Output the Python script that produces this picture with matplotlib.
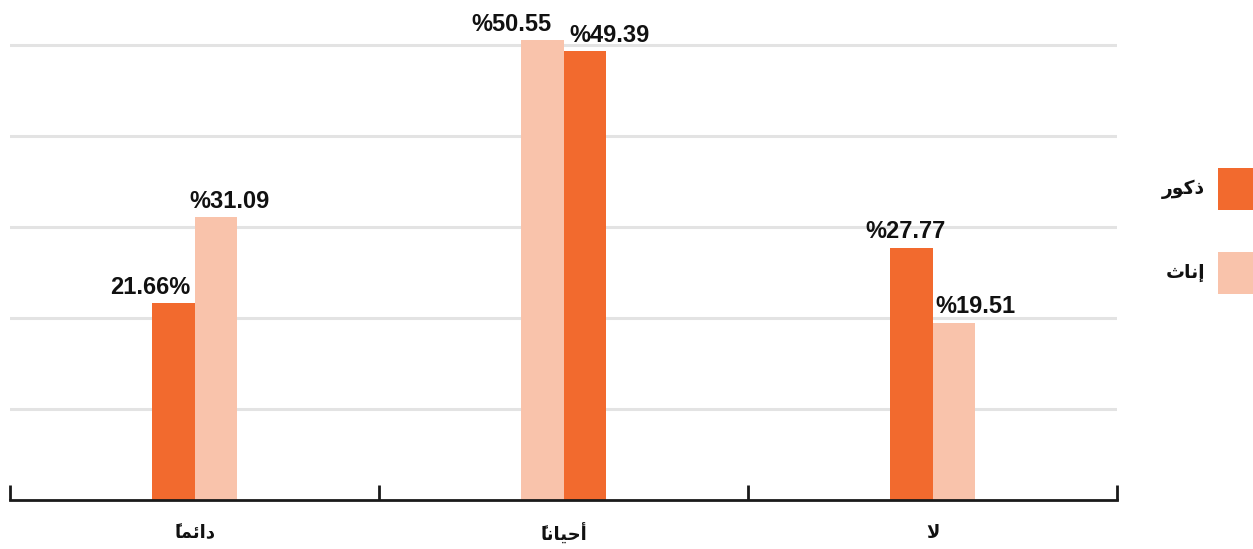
import matplotlib
matplotlib.use("Agg")
import matplotlib.pyplot as plt
from matplotlib.patches import Rectangle
from matplotlib import font_manager
from matplotlib.font_manager import FontProperties
from matplotlib.ft2font import FT2Font
import numpy as np

# ---- data -------------------------------------------------------------
categories = ["دائماً", "أحياناً", "لا"]
series_names = ["ذكور", "إناث"]
male_values = [21.66, 49.39, 27.77]
female_values = [31.09, 50.55, 19.51]
male_labels = ["21.66%", "%49.39", "%27.77"]
female_labels = ["%31.09", "%50.55", "%19.51"]
# which series sits on the left inside each group (0 = male, 1 = female)
left_series = [0, 1, 0]

# ---- styling ----------------------------------------------------------
MALE_COLOR = "#F26A2E"
FEMALE_COLOR = "#F9C3AB"
GRID_COLOR = "#E3E3E3"
AXIS_COLOR = "#1A1A1A"
TEXT_COLOR = "#111111"

# ---- fonts ------------------------------------------------------------
available = {f.name for f in font_manager.fontManager.ttflist}
num_family = ["Liberation Sans Narrow", "Liberation Sans", "DejaVu Sans"]
num_family = [f for f in num_family if f in available] or ["DejaVu Sans"]
ar_family = ["DejaVu Sans"]

# ---- minimal Arabic shaping (matplotlib draws glyphs left to right, unshaped)
_FORMS = {
    'ا': ('\uFE8D', '\uFE8E', None, None),
    'أ': ('\uFE83', '\uFE84', None, None),
    'إ': ('\uFE87', '\uFE88', None, None),
    'د': ('\uFEA9', '\uFEAA', None, None),
    'ذ': ('\uFEAB', '\uFEAC', None, None),
    'ر': ('\uFEAD', '\uFEAE', None, None),
    'و': ('\uFEED', '\uFEEE', None, None),
    'ئ': ('\uFE89', '\uFE8A', '\uFE8B', '\uFE8C'),
    'م': ('\uFEE1', '\uFEE2', '\uFEE3', '\uFEE4'),
    'ح': ('\uFEA1', '\uFEA2', '\uFEA3', '\uFEA4'),
    'ي': ('\uFEF1', '\uFEF2', '\uFEF3', '\uFEF4'),
    'ن': ('\uFEE5', '\uFEE6', '\uFEE7', '\uFEE8'),
    'ث': ('\uFE99', '\uFE9A', '\uFE9B', '\uFE9C'),
    'ك': ('\uFED9', '\uFEDA', '\uFEDB', '\uFEDC'),
    'ل': ('\uFEDD', '\uFEDE', '\uFEDF', '\uFEE0'),
}
_LAM_ALEF = {'ا': ('\uFEFB', '\uFEFC'), 'أ': ('\uFEF7', '\uFEF8'),
             'إ': ('\uFEF9', '\uFEFA')}
_MARKS = set('\u064B\u064C\u064D\u064E\u064F\u0650\u0651\u0652')


def _marks_draw_leftward():
    """True if the font's zero-width marks extend to the left of the pen."""
    try:
        path = font_manager.findfont(FontProperties(family=ar_family, weight="bold"))
        ft = FT2Font(path)
        ft.set_size(12, 72)
        g = ft.load_char(0x064B)
        return g.horiBearingX + g.width / 2 < 0
    except Exception:
        return True


_MARK_AFTER_BASE = _marks_draw_leftward()


def _dual(base):
    f = _FORMS.get(base)
    return f is not None and f[2] is not None


def shape_arabic(text):
    clusters = []
    for ch in text:
        if ch in _MARKS and clusters:
            clusters[-1][1].append(ch)
        else:
            clusters.append([ch, []])
    merged = []
    i = 0
    while i < len(clusters):
        b, m = clusters[i]
        if b == 'ل' and i + 1 < len(clusters) and clusters[i + 1][0] in _LAM_ALEF:
            merged.append(['LA' + clusters[i + 1][0], m + clusters[i + 1][1]])
            i += 2
        else:
            merged.append([b, m])
            i += 1
    out = []
    for k, (b, m) in enumerate(merged):
        prev_b = merged[k - 1][0] if k > 0 else None
        next_b = merged[k + 1][0] if k + 1 < len(merged) else None
        joins_prev = prev_b is not None and _dual(prev_b)
        if b.startswith('LA'):
            iso, fin = _LAM_ALEF[b[2]]
            g = fin if joins_prev else iso
        elif b in _FORMS:
            iso, fin, ini, med = _FORMS[b]
            joins_next = (ini is not None and next_b is not None
                          and (next_b in _FORMS or next_b.startswith('LA')))
            if joins_prev and joins_next:
                g = med
            elif joins_prev:
                g = fin
            elif joins_next:
                g = ini
            else:
                g = iso
        else:
            g = b
        marks = ''.join(m)
        out.append(g + marks if _MARK_AFTER_BASE else marks + g)
    return ''.join(reversed(out))


# ---- figure -----------------------------------------------------------
W, H = 1253, 549
fig = plt.figure(figsize=(W / 100, H / 100), dpi=100)
ax = fig.add_axes([10 / W, 49 / H, 1107 / W, 500 / H])

x = np.arange(len(categories))
bar_w = 0.114
bar_colors = [MALE_COLOR, FEMALE_COLOR]

# horizontal nudge of each value label (points), keyed by (group, series)
label_dx = {(0, 0): -17, (0, 1): 10, (1, 1): -22, (1, 0): 18,
            (2, 0): -4, (2, 1): 16}

for i in range(len(categories)):
    vals = [male_values[i], female_values[i]]
    labs = [male_labels[i], female_labels[i]]
    order = [left_series[i], 1 - left_series[i]]
    for side, s in enumerate(order):
        xc = x[i] + (side - 0.5) * bar_w
        ax.bar(xc, vals[s], width=bar_w, color=bar_colors[s], zorder=3,
               linewidth=0)
        ax.annotate(labs[s], xy=(xc, vals[s]),
                    xytext=(label_dx[(i, s)], 3),
                    textcoords="offset points", ha="center", va="bottom",
                    fontsize=17, fontweight="bold", family=num_family,
                    color=TEXT_COLOR, zorder=5)

ax.set_xlim(-0.5, len(categories) - 0.5)
ax.set_ylim(0, 55)

# grid
ax.set_yticks([10, 20, 30, 40, 50])
ax.yaxis.grid(True, color=GRID_COLOR, linewidth=2.2, zorder=0)
ax.tick_params(axis="y", length=0, labelleft=False)

# x axis: boundary ticks pointing up, category labels centred
ax.set_xticks(np.arange(len(categories) + 1) - 0.5)
ax.set_xticklabels([])
ax.tick_params(axis="x", which="major", direction="in", length=11,
               width=2.0, color=AXIS_COLOR)
ax.set_xticks(x, minor=True)
ax.set_xticklabels([shape_arabic(c) for c in categories], minor=True,
                   fontsize=13, fontweight="bold", family=ar_family,
                   color=TEXT_COLOR)
ax.tick_params(axis="x", which="minor", length=0, pad=17)

for side in ["top", "right", "left"]:
    ax.spines[side].set_visible(False)
ax.spines["bottom"].set_color(AXIS_COLOR)
ax.spines["bottom"].set_linewidth(2.0)
ax.spines["bottom"].set_zorder(4)

# legend: swatches at the right edge, names to their left
legend_y = [189, 273]  # centres, pixels from top
for name, col, yc in zip(series_names, bar_colors, legend_y):
    fig.add_artist(Rectangle((1218 / W, 1 - (yc + 21) / H), 42 / W, 42 / H,
                             transform=fig.transFigure, color=col,
                             linewidth=0))
    fig.text(1205 / W, 1 - yc / H, shape_arabic(name), ha="right",
             va="center", fontsize=13.5, fontweight="bold", family=ar_family,
             color=TEXT_COLOR)

fig.savefig("out.png", dpi=100)
